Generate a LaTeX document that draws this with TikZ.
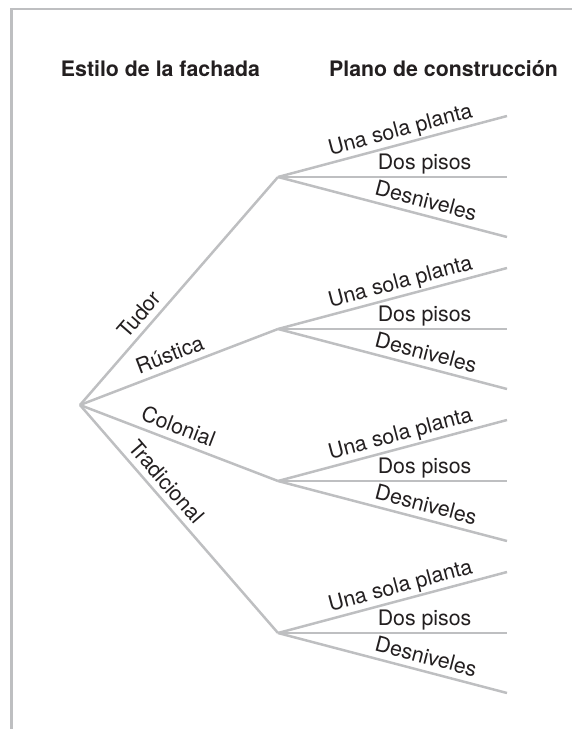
\documentclass[tikz,border=0pt]{standalone}
\usepackage{fontspec}
\setmainfont{TeX Gyre Heros}
\definecolor{linegray}{HTML}{BEBFC1}
\definecolor{txt}{HTML}{231F20}
\begin{document}
\begin{tikzpicture}[x=1bp,y=1bp,
  branch/.style={draw=linegray, line width=2.5bp},
  lab/.style={sloped, above, inner sep=4bp, text height=0.72em, text depth=0.22em,
    font=\fontsize{21.4}{24}\selectfont, text=txt},
  title/.style={font=\fontsize{21.4}{24}\selectfont\bfseries, text=txt, anchor=base, inner sep=0pt}]
\useasboundingbox (0,0) rectangle (572,-729);
% frame
\coordinate (fb) at (11.5,-729);
\coordinate (fc) at (11.5,-9);
\coordinate (fr) at (572,-9);
\draw[draw=linegray, line width=2.8bp] (fb) -- (fc) -- (fr);
% titles
\node[title] (t1) at (160.5,-77) {Estilo de la fachada};
\node[title] (t2) at (443.5,-77) {Plano de construcción};
% tree points
\coordinate (root) at (80,-405);
\foreach \n/\y in {a/-177,b/-329,c/-481,d/-633}{
  \coordinate (\n) at (278,\y);
  \coordinate (\n1) at (507,\y+61);
  \coordinate (\n2) at (507,\y);
  \coordinate (\n3) at (507,\y-60);
}
% first level
\draw[branch] (root) -- (a) node[lab,pos=0.355]{Tudor};
\draw[branch] (root) -- (b) node[lab,pos=0.48]{Rústica};
\draw[branch] (root) -- (c) node[lab,pos=0.47]{Colonial};
\draw[branch] (root) -- (d) node[lab,pos=0.38]{Tradicional};
% second level
\foreach \n in {a,b,c,d}{
  \draw[branch] (\n) -- (\n1) node[lab,pos=0.55]{Una sola planta};
  \draw[branch] (\n) -- (\n2) node[lab,pos=0.64]{Dos pisos};
  \draw[branch] (\n) -- (\n3) node[lab,pos=0.63]{Desniveles};
}
\end{tikzpicture}
\end{document}
